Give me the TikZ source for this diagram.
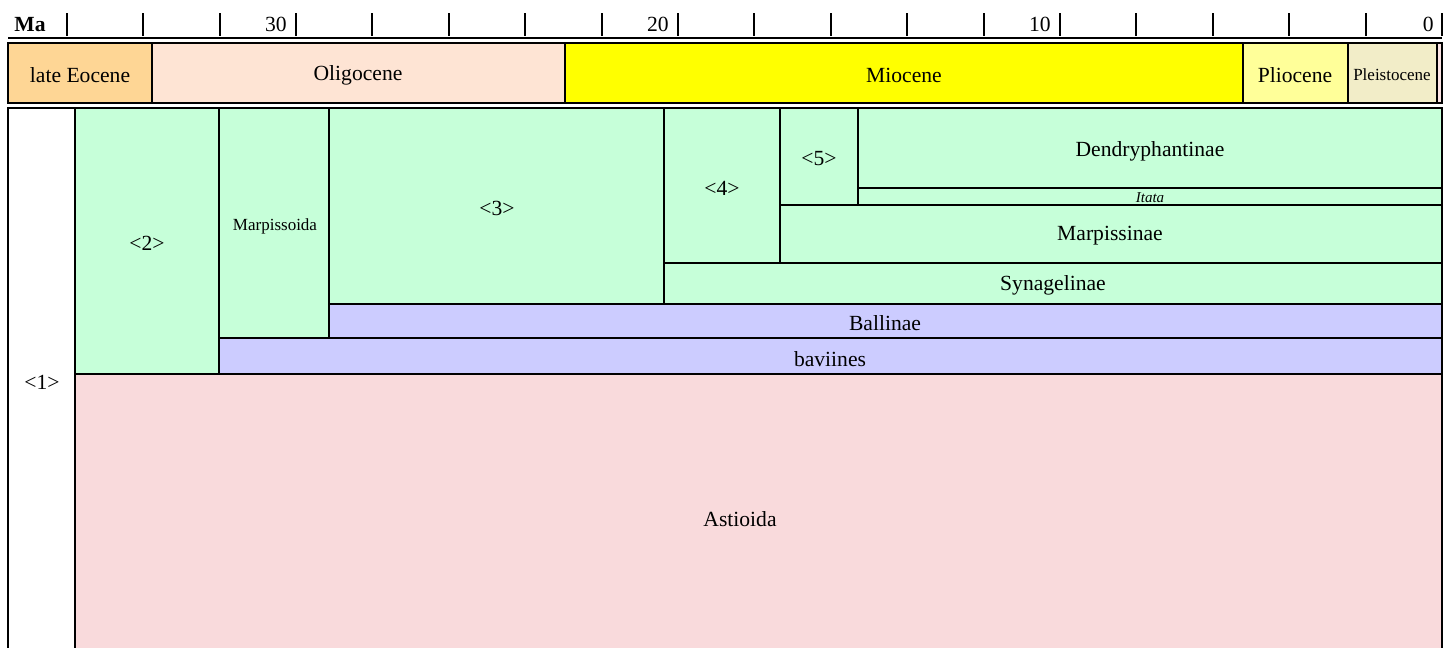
\documentclass[tikz,border=0pt]{standalone}
\usepackage{fontspec}
\setmainfont{Liberation Serif}
\definecolor{eoc}{HTML}{FED695}
\definecolor{oli}{HTML}{FEE4D4}
\definecolor{mio}{HTML}{FFFF00}
\definecolor{pli}{HTML}{FFFF99}
\definecolor{ple}{HTML}{F2EDC8}
\definecolor{hol}{HTML}{FBE3E3}
\definecolor{grn}{HTML}{C6FFD9}
\definecolor{pur}{HTML}{CCCCFF}
\definecolor{pnk}{HTML}{F9DADC}
\tikzset{
  box/.style={draw=black, line width=1pt},
  lbl/.style={font=\fontsize{10.8pt}{12pt}\selectfont, inner sep=0pt},
  slbl/.style={font=\fontsize{8.5pt}{10pt}\selectfont, inner sep=0pt},
  tlbl/.style={font=\fontsize{7.5pt}{9pt}\selectfont\itshape, inner sep=0pt},
  tick/.style={line width=1pt},
}
\begin{document}
\begin{tikzpicture}[x=0.5pt,y=-0.5pt]
\useasboundingbox (0,0) rectangle (1448,648);
\clip (0,0) rectangle (1448,648);
\fill[white] (0,0) rectangle (1448,648);
% time scale
\draw[line width=1pt] (8,38) -- (1442,38);
\foreach \k in {0,...,18} {
  \draw[tick] ({1442-\k*76.4},13) -- ({1442-\k*76.4},36);
}
\node[lbl, font=\fontsize{10.8pt}{12pt}\selectfont\bfseries, anchor=west] (ma) at (14,25) {Ma};
\node[lbl, anchor=east] (t30) at (287,24) {30};
\node[lbl, anchor=east] (t20) at (669,24) {20};
\node[lbl, anchor=east] (t10) at (1051,24) {10};
\node[lbl, anchor=east] (t0) at (1434,24) {0};
% epochs
\path[box, fill=eoc] (8,43) rectangle (152,103);
\path[box, fill=oli] (152,43) rectangle (565,103);
\path[box, fill=mio] (565,43) rectangle (1243,103);
\path[box, fill=pli] (1243,43) rectangle (1348,103);
\path[box, fill=ple] (1348,43) rectangle (1437,103);
\path[box, fill=hol] (1437,43) rectangle (1442,103);
\node[lbl] (eocene) at (80,75) {late Eocene};
\node[lbl] (oligocene) at (358,75) {Oligocene};
\node[lbl] (miocene) at (904,75) {Miocene};
\node[lbl] (pliocene) at (1295,75) {Pliocene};
\node[slbl] (pleistocene) at (1392,75) {Pleistocene};
% clades
\path[box, fill=white] (8,108) rectangle (75,660);
\path[box, fill=grn] (75,108) rectangle (219,374);
\path[box, fill=grn] (219,108) rectangle (329,338);
\path[box, fill=grn] (329,108) rectangle (664,304);
\path[box, fill=grn] (664,108) rectangle (780,263);
\path[box, fill=grn] (780,108) rectangle (858,205);
\path[box, fill=grn] (858,108) rectangle (1442,188);
\path[box, fill=grn] (858,188) rectangle (1442,205);
\path[box, fill=grn] (780,205) rectangle (1442,263);
\path[box, fill=grn] (664,263) rectangle (1442,304);
\path[box, fill=pur] (329,304) rectangle (1442,338);
\path[box, fill=pur] (219,338) rectangle (1442,374);
\path[box, fill=pnk] (75,374) rectangle (1442,660);
\node[lbl] (c1) at (42,382) {\textless1\textgreater};
\node[lbl] (c2) at (147,243) {\textless2\textgreater};
\node[slbl] (marpissoida) at (275,226) {Marpissoida};
\node[lbl] (c3) at (497,208) {\textless3\textgreater};
\node[lbl] (c4) at (722,188) {\textless4\textgreater};
\node[lbl] (c5) at (819,159) {\textless5\textgreater};
\node[lbl] (dendry) at (1150,151) {Dendryphantinae};
\node[tlbl] (itata) at (1150,198) {Itata};
\node[lbl] (marpissinae) at (1110,236) {Marpissinae};
\node[lbl] (synagelinae) at (1053,285) {Synagelinae};
\node[lbl] (ballinae) at (885,323) {Ballinae};
\node[lbl] (baviines) at (830,359) {baviines};
\node[lbl] (astioida) at (740,519) {Astioida};
\end{tikzpicture}
\end{document}
